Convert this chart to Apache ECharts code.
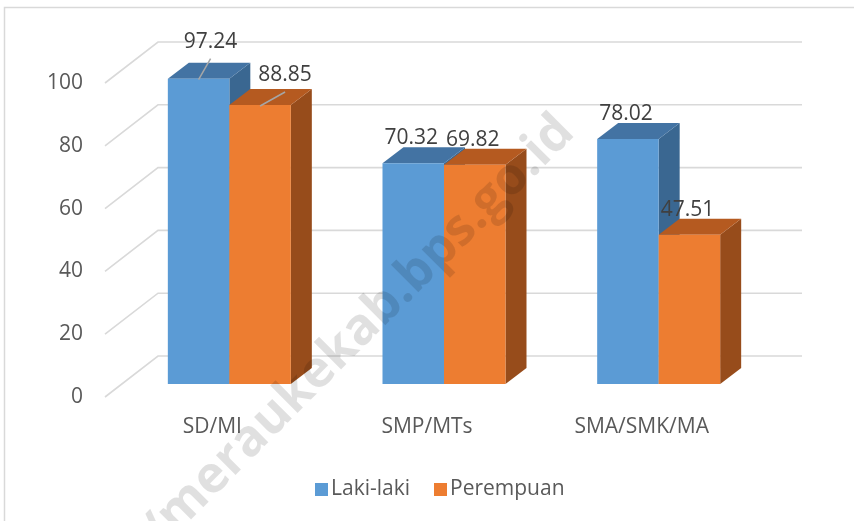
<!DOCTYPE html>
<html>
<head>
<meta charset="utf-8">
<script src="https://cdn.jsdelivr.net/npm/echarts@6/dist/echarts.min.js"></script>
<style>
  html, body { margin: 0; padding: 0; background: #fff; }
  #chart { width: 854px; height: 521px; }
</style>
</head>
<body>
<div id="chart"></div>
<script>
const categories = ['SD/MI', 'SMP/MTs', 'SMA/SMK/MA'];
const lakiLaki = [97.24, 70.32, 78.02];
const perempuan = [88.85, 69.82, 47.51];
const yTicks = [0, 20, 40, 60, 80, 100];

const FONT = '"Open Sans", sans-serif';
const WALL = [53, -41];   // back wall offset from the axis plane
const FRONT = [17, -13];  // bar front face offset from the axis plane
const DEPTH = [21, -16];  // bar depth
const BAR_W = 61.5;

// labels on SD/MI sit a bit away from the bar with a leader line
const leader = { 'Laki-laki-0': [14, -12], 'Perempuan-0': [27, -5] };

function gridRender(params, api) {
  const v = api.value(1);
  const band = api.size([1, 0])[0];
  const a = api.coord([0, v]);
  const b = api.coord([categories.length - 1, v]);
  const x0 = a[0] - band / 2, x1 = b[0] + band / 2, y = a[1];
  return {
    type: 'polyline',
    shape: { points: [[x0, y], [x0 + WALL[0], y + WALL[1]], [x1 + WALL[0], y + WALL[1]]] },
    style: { stroke: '#d9d9d9', lineWidth: 1.6, fill: null },
    silent: true
  };
}

function barRender(name, left, colors) {
  return function (params, api) {
    const ci = api.value(0), v = api.value(1);
    const p0 = api.coord([ci, 0]);
    const p1 = api.coord([ci, v]);
    const x0 = p0[0] + FRONT[0] - (left ? BAR_W : 0);
    const x1 = x0 + BAR_W;
    const yb = p0[1] + FRONT[1], yt = p1[1] + FRONT[1];
    const dx = DEPTH[0], dy = DEPTH[1];
    const cx = (x0 + x1) / 2;
    const kids = [
      { type: 'polygon', shape: { points: [[x1, yb], [x1 + dx, yb + dy], [x1 + dx, yt + dy], [x1, yt]] },
        style: { fill: colors.side } },
      { type: 'polygon', shape: { points: [[x0, yt], [x0 + dx, yt + dy], [x1 + dx, yt + dy], [x1, yt]] },
        style: { fill: colors.top } },
      { type: 'rect', shape: { x: x0, y: yt, width: BAR_W, height: yb - yt },
        style: { fill: colors.front } }
    ];
    const shift = leader[name + '-' + ci] || [0, 0];
    const lx = cx - 2 + shift[0], ly = yt + dy - 9 + shift[1];
    if (leader[name + '-' + ci]) {
      kids.push({ type: 'line', shape: { x1: lx, y1: ly + 17, x2: cx, y2: yt + 1 },
        style: { stroke: '#a6a6a6', lineWidth: 1.5 } });
    }
    kids.push({ type: 'text', x: lx, y: ly,
      style: { text: String(v.toFixed(2)), fill: '#404040', font: '21px ' + FONT,
        textAlign: 'center', textVerticalAlign: 'middle' } });
    return { type: 'group', children: kids };
  };
}

const chart = echarts.init(document.getElementById('chart'));
chart.setOption({
  animation: false,
  grid: { left: 105, right: 105, top: 83, bottom: 124 },
  legend: {
    left: 310, top: 474,
    itemWidth: 13, itemHeight: 13, itemGap: 24,
    icon: 'rect',
    textStyle: { fontFamily: FONT, fontSize: 21, color: '#595959', padding: [0, 0, 0, -2] },
    data: ['Laki-laki', 'Perempuan']
  },
  xAxis: {
    type: 'category',
    data: categories,
    axisLine: { show: false },
    axisTick: { show: false },
    axisLabel: { margin: 20, fontFamily: FONT, fontSize: 21, color: '#595959' }
  },
  yAxis: {
    type: 'value', min: 0, max: 100, interval: 20,
    axisLine: { show: false },
    axisTick: { show: false },
    splitLine: { show: false },
    axisLabel: { margin: 22, fontFamily: FONT, fontSize: 21, color: '#595959' }
  },
  graphic: [
    { type: 'rect', z: -10, shape: { x: 4.5, y: 7.5, width: 900, height: 600 },
      style: { fill: null, stroke: '#d9d9d9', lineWidth: 1.5 }, silent: true },
    { type: 'text', z: 100, x: 566, y: 124, rotation: Math.PI / 4, silent: true,
      style: { text: 'https://meraukekab.bps.go.id', fill: 'rgba(0,0,0,0.12)',
        font: 'bold 51px ' + FONT, textAlign: 'right', textVerticalAlign: 'middle' } }
  ],
  series: [
    {
      type: 'custom', name: 'grid', z: 1, silent: true,
      renderItem: gridRender,
      encode: { x: 0, y: 1 },
      data: yTicks.map(t => [0, t])
    },
    {
      type: 'custom', name: 'Laki-laki', z: 2,
      itemStyle: { color: '#5b9bd5' },
      renderItem: barRender('Laki-laki', true, { front: '#5b9bd5', top: '#4373a3', side: '#3a6791' }),
      encode: { x: 0, y: 1 },
      data: lakiLaki.map((v, i) => [i, v])
    },
    {
      type: 'custom', name: 'Perempuan', z: 2,
      itemStyle: { color: '#ed7d31' },
      renderItem: barRender('Perempuan', false, { front: '#ed7d31', top: '#b55a20', side: '#974c1b' }),
      encode: { x: 0, y: 1 },
      data: perempuan.map((v, i) => [i, v])
    }
  ]
});
</script>
</body>
</html>
